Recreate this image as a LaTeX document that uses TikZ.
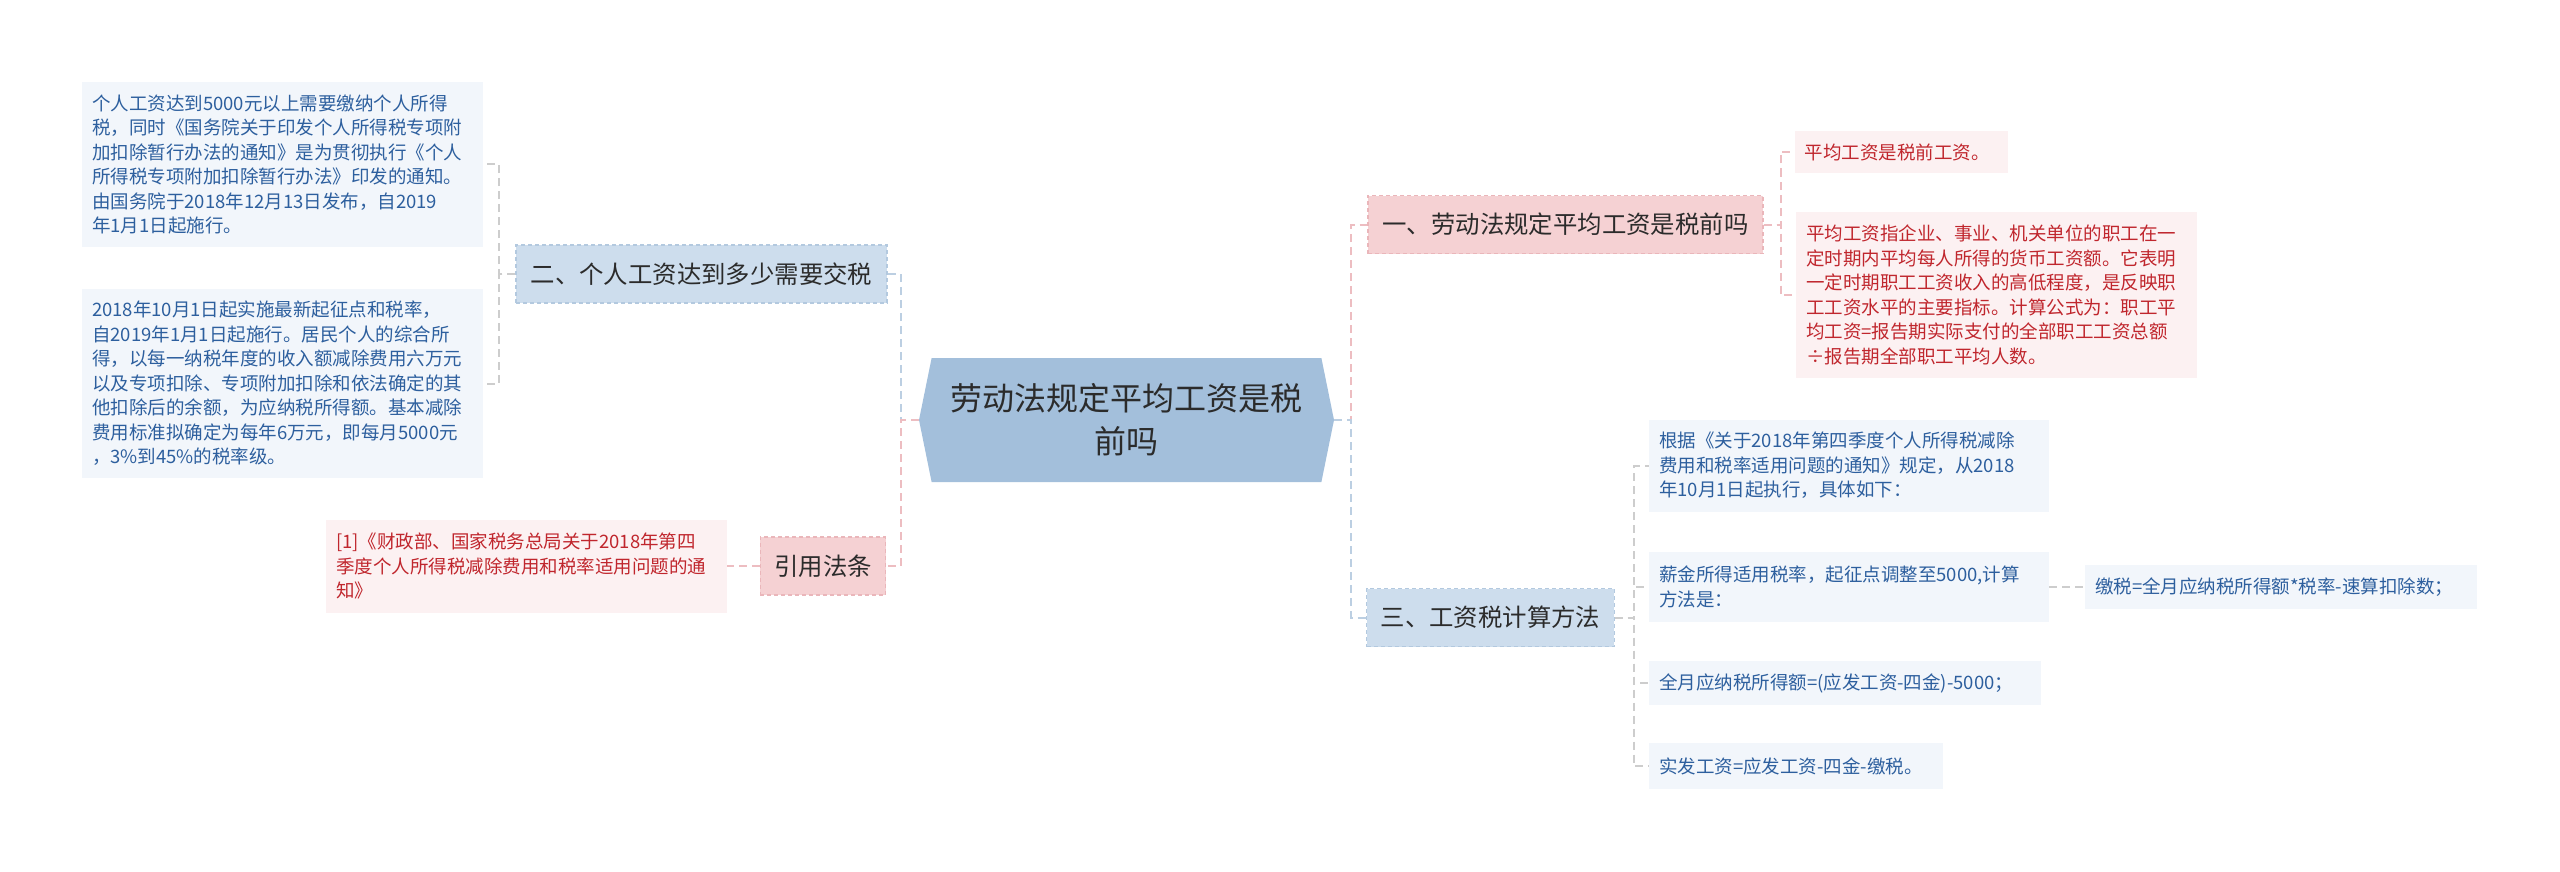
\documentclass[tikz,border=0pt]{standalone}
\usepackage{fontspec}
\setmainfont{Noto Sans CJK SC}
\usetikzlibrary{shapes.symbols}
\definecolor{rootfill}{HTML}{A3BFDB}
\definecolor{bluebox}{HTML}{CDDDED}
\definecolor{blueedge}{HTML}{B3C9DF}
\definecolor{pinkbox}{HTML}{F5D1D3}
\definecolor{pinkedge}{HTML}{EAB6BA}
\definecolor{blueleaffill}{HTML}{F2F6FB}
\definecolor{pinkleaffill}{HTML}{FCF1F2}
\definecolor{bluetext}{HTML}{2D5F9E}
\definecolor{redtext}{HTML}{C0262D}
\definecolor{darktext}{HTML}{2B2B2B}
\definecolor{pinkline}{HTML}{EDBDC1}
\definecolor{blueline}{HTML}{BCCFE2}
\definecolor{greyline}{HTML}{CDCDCD}
\tikzset{
    rootnode/.style={signal, signal to=west and east, signal pointer angle=157, fill=rootfill, minimum width=415pt, minimum height=124pt, inner sep=0pt, text width=360pt, align=center, text=darktext, font=\fontsize{32}{43}\selectfont},
    branchbase/.style={rectangle, line width=1.2pt, dash pattern=on 4pt off 3pt, minimum height=58pt, inner xsep=14pt, text=darktext, font=\fontsize{24.4}{30}\selectfont},
    bluebranch/.style={branchbase, fill=bluebox, draw=blueedge},
    pinkbranch/.style={branchbase, fill=pinkbox, draw=pinkedge},
    leafbase/.style={rectangle, inner xsep=10pt, inner ysep=0pt, align=left, font=\fontsize{18.5}{24.5}\selectfont},
    blueleaf/.style={leafbase, fill=blueleaffill, text=bluetext},
    pinkleaf/.style={leafbase, fill=pinkleaffill, text=redtext},
    linkbase/.style={line width=2pt, dash pattern=on 8pt off 5pt},
    pinklink/.style={linkbase, draw=pinkline},
    bluelink/.style={linkbase, draw=blueline},
    greylink/.style={linkbase, draw=greyline}
}
\begin{document}
\begin{tikzpicture}[x=1pt, y=-1pt]
    \useasboundingbox (0,0) rectangle (2560,872);
    \node[rootnode] (root) at (1126.5,420) {劳动法规定平均工资是税\\前吗};

    % Main branches
    \node[bluebranch, minimum width=371pt] (q2) at (701.5,274) {二、个人工资达到多少需要交税};
    \node[pinkbranch, minimum width=124pt] (cite) at (823,566) {引用法条};
    \node[pinkbranch, minimum width=395pt] (q1) at (1565.5,224.5) {一、劳动法规定平均工资是税前吗};
    \node[bluebranch, minimum width=245pt] (q3) at (1490.5,617.5) {三、工资税计算方法};

    % Left leaves
    \node[blueleaf, text width=381pt, minimum height=165pt] (tax1) at (282.5,164.5) {个人工资达到5000元以上需要缴纳个人所得\\税，同时《国务院关于印发个人所得税专项附\\加扣除暂行办法的通知》是为贯彻执行《个人\\所得税专项附加扣除暂行办法》印发的通知。\\由国务院于2018年12月13日发布，自2019\\年1月1日起施行。};
    \node[blueleaf, text width=381pt, minimum height=189pt] (tax2) at (282.5,383.5) {2018年10月1日起实施最新起征点和税率，\\自2019年1月1日起施行。居民个人的综合所\\得，以每一纳税年度的收入额减除费用六万元\\以及专项扣除、专项附加扣除和依法确定的其\\他扣除后的余额，为应纳税所得额。基本减除\\费用标准拟确定为每年6万元，即每月5000元\\，3\%到45\%的税率级。};
    \node[pinkleaf, text width=381pt, minimum height=93pt] (ref1) at (526.5,566) {[1]《财政部、国家税务总局关于2018年第四\\季度个人所得税减除费用和税率适用问题的通\\知》};

    % Right leaves
    \node[pinkleaf, text width=193pt, minimum height=42pt] (avg1) at (1901,152) {平均工资是税前工资。};
    \node[pinkleaf, text width=381pt, minimum height=166pt] (avg2) at (1996.5,295) {平均工资指企业、事业、机关单位的职工在一\\定时期内平均每人所得的货币工资额。它表明\\一定时期职工工资收入的高低程度，是反映职\\工工资水平的主要指标。计算公式为：职工平\\均工资=报告期实际支付的全部职工工资总额\\÷报告期全部职工平均人数。};
    \node[blueleaf, text width=380pt, minimum height=92pt] (calc1) at (1849,465.5) {根据《关于2018年第四季度个人所得税减除\\费用和税率适用问题的通知》规定，从2018\\年10月1日起执行，具体如下：};
    \node[blueleaf, text width=380pt, minimum height=70pt] (calc2) at (1849,587) {薪金所得适用税率，起征点调整至5000,计算\\方法是：};
    \node[blueleaf, text width=372pt, minimum height=44pt] (calc3) at (2281,587) {缴税=全月应纳税所得额*税率-速算扣除数；};
    \node[blueleaf, text width=372pt, minimum height=44pt] (calc4) at (1845,683) {全月应纳税所得额=(应发工资-四金)-5000；};
    \node[blueleaf, text width=274pt, minimum height=46pt] (calc5) at (1796,766) {实发工资=应发工资-四金-缴税。};

    % Root to branches
    \draw[bluelink] (root.west) -- ++(-18,0) |- (q2.east);
    \draw[pinklink] (root.west) -- ++(-18,0) |- (cite.east);
    \draw[pinklink] (root.east) -- ++(17,0) |- (q1.west);
    \draw[bluelink] (root.east) -- ++(17,0) |- (q3.west);

    % Branches to leaves
    \draw[greylink] (q2.west) -- ++(-16,0) |- (tax1.east);
    \draw[greylink] (q2.west) -- ++(-16,0) |- (tax2.east);
    \draw[pinklink] (cite.west) -- (ref1.east);
    \draw[pinklink] (q1.east) -- ++(17,0) |- (avg1.west);
    \draw[pinklink] (q1.east) -- ++(17,0) |- (avg2.west);
    \draw[greylink] (q3.east) -- ++(19,0) |- (calc1.west);
    \draw[greylink] (q3.east) -- ++(19,0) |- (calc2.west);
    \draw[greylink] (q3.east) -- ++(19,0) |- (calc4.west);
    \draw[greylink] (q3.east) -- ++(19,0) |- (calc5.west);
    \draw[greylink] (calc2.east) -- (calc3.west);
\end{tikzpicture}
\end{document}
